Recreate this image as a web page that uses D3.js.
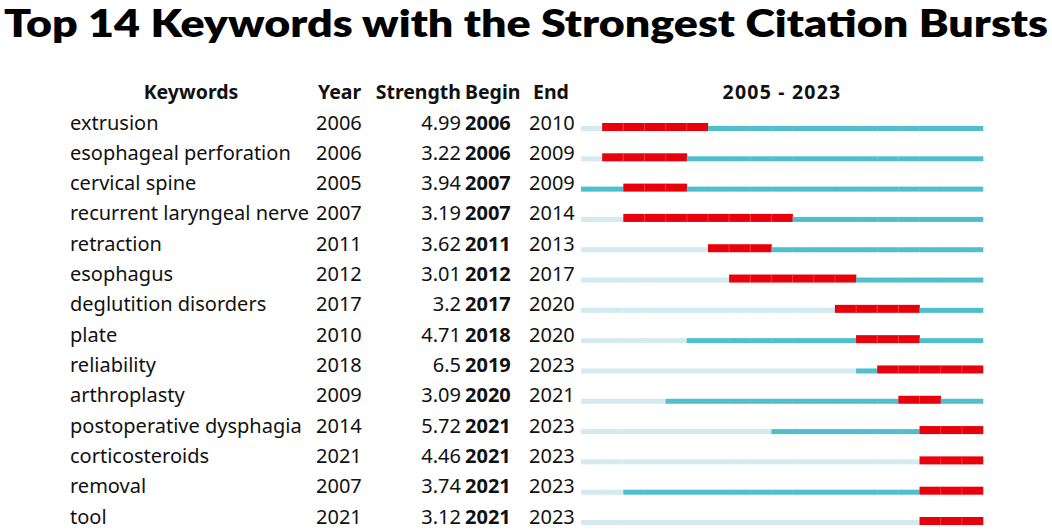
<!DOCTYPE html>
<html lang="en-us">
<head>
<meta charset="utf-8">
<title>Citation Bursts</title>
<script src="https://d3js.org/d3.v7.min.js"></script>
<style>
  body { margin: 0; background: white; }
  svg { display: block; }
</style>
</head>
<body>
<div id="chart"></div>
<script>
const keywords = ["extrusion", "esophageal perforation", "cervical spine", "recurrent laryngeal nerve",
  "retraction", "esophagus", "deglutition disorders", "plate", "reliability", "arthroplasty",
  "postoperative dysphagia", "corticosteroids", "removal", "tool"];
const years = [2006, 2006, 2005, 2007, 2011, 2012, 2017, 2010, 2018, 2009, 2014, 2021, 2007, 2021];
const strengths = ["4.99", "3.22", "3.94", "3.19", "3.62", "3.01", "3.2", "4.71", "6.5", "3.09", "5.72", "4.46", "3.74", "3.12"];
const begins = [2006, 2006, 2007, 2007, 2011, 2012, 2017, 2018, 2019, 2020, 2021, 2021, 2021, 2021];
const ends = [2010, 2009, 2009, 2014, 2013, 2017, 2020, 2020, 2023, 2021, 2023, 2023, 2023, 2023];
const headers = ["Keywords", "Year", "Strength", "Begin", "End"];
const firstYear = 2005, lastYear = 2023;

const width = 1052, height = 531;
const font = "'Noto Sans', sans-serif";

const svg = d3.select('#chart').append('svg')
  .attr('width', width)
  .attr('height', height);

// title: wide geometric look, so stretch the glyphs to the page width
svg.append('text')
  .attr('x', 4)
  .attr('y', 37)
  .attr('font-family', "Lato, 'Noto Sans', sans-serif")
  .attr('font-weight', 800)
  .attr('font-size', 38)
  .attr('textLength', 1044)
  .attr('lengthAdjust', 'spacingAndGlyphs')
  .text('Top 14 Keywords with the Strongest Citation Bursts');

const rows = d3.range(keywords.length);
const yScale = d3.scaleLinear().domain([0, keywords.length - 1]).range([122, 516]);
const xScale = d3.scaleLinear().domain([firstYear, lastYear + 1]).range([581, 983]);

// header row
const headerY = 91;
const hdr = svg.append('g')
  .attr('font-family', font)
  .attr('font-weight', 700)
  .attr('font-size', 19.5)
  .attr('fill', '#111')
  .attr('dominant-baseline', 'central');
hdr.append('text').attr('x', 191).attr('y', headerY).attr('text-anchor', 'middle').text(headers[0]);
hdr.append('text').attr('x', 318).attr('y', headerY).text(headers[1]);
hdr.append('text').attr('x', 461).attr('y', headerY).attr('text-anchor', 'end').text(headers[2]);
hdr.append('text').attr('x', 465).attr('y', headerY).text(headers[3]);
hdr.append('text').attr('x', 533).attr('y', headerY).text(headers[4]);
hdr.append('text').attr('x', (xScale(firstYear) + xScale(lastYear + 1)) / 2).attr('y', headerY)
  .attr('text-anchor', 'middle').attr('letter-spacing', 1.2)
  .text(`${firstYear} - ${lastYear}`);

// table text
const tbl = svg.append('g')
  .attr('font-family', font)
  .attr('font-size', 20)
  .attr('fill', '#111')
  .attr('dominant-baseline', 'central');

const row = tbl.selectAll('g.row').data(rows).enter().append('g')
  .attr('class', 'row')
  .attr('transform', i => `translate(0, ${yScale(i)})`);

row.append('text').attr('x', 70).text(i => keywords[i]);
row.append('text').attr('x', 316).text(i => years[i]);
row.append('text').attr('x', 461).attr('text-anchor', 'end').text(i => strengths[i]);
row.append('text').attr('x', 465).attr('font-weight', 700).text(i => begins[i]);
row.append('text').attr('x', 529).text(i => ends[i]);

// timeline bars
const allYears = d3.range(firstYear, lastYear + 1);
const bars = svg.append('g');
const barRow = bars.selectAll('g.bar').data(rows).enter().append('g')
  .attr('class', 'bar')
  .attr('transform', i => `translate(0, ${yScale(i) + 9})`);

const inBurst = d => d.y >= begins[d.i] && d.y <= ends[d.i];

barRow.selectAll('rect')
  .data(i => allYears.map(y => ({ i, y })))
  .enter().append('rect')
  .attr('x', d => xScale(d.y))
  .attr('width', d => xScale(d.y + 1) - xScale(d.y) + 0.3)
  .attr('y', d => inBurst(d) ? -8 : -5)
  .attr('height', d => inBurst(d) ? 8 : 5)
  .attr('fill', d => {
    if (inBurst(d)) return '#e8000b';
    if (d.y >= years[d.i]) return '#4fbfcd';
    return '#d3ebf0';
  });

// faint year separators inside bursts
barRow.selectAll('line')
  .data(i => d3.range(begins[i] + 1, ends[i] + 1).map(y => ({ i, y })))
  .enter().append('line')
  .attr('x1', d => xScale(d.y)).attr('x2', d => xScale(d.y))
  .attr('y1', -8).attr('y2', 0)
  .attr('stroke', '#f25a5a')
  .attr('stroke-width', 0.6);
</script>
</body>
</html>
